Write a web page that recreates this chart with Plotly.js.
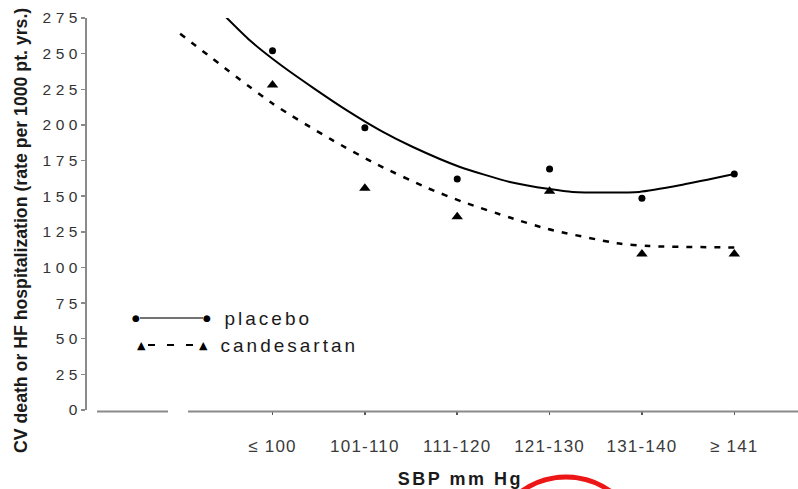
<!DOCTYPE html>
<html>
<head>
<meta charset="utf-8">
<script src="https://cdn.plot.ly/plotly-3.0.1.min.js"></script>
<style>
  html, body { margin: 0; padding: 0; background: #fff; }
  #chart { width: 798px; height: 489px; }
  .ytick text { letter-spacing: 4.5px; }
  .xtick text { letter-spacing: 1.2px; }
  .annotation[data-index="1"] text { letter-spacing: 2.5px; }
  .annotation[data-index="2"] text, .annotation[data-index="3"] text { letter-spacing: 3px; }
</style>
</head>
<body>
<div id="chart"></div>
<script>
// Categories (SBP groups) and their axis positions
const categories = ['\u2264 100', '101-110', '111-120', '121-130', '131-140', '\u2265 141'];
const catIndex = [1, 2, 3, 4, 5, 6];

// Observed event rates (per 1000 pt. yrs.)
const placebo = [252, 198, 162, 169, 148.5, 165.5];
const candesartan = [228, 155.5, 135.5, 153.5, 109.5, 109.5];

// Fitted trend curves
const placeboFitX = [0.49, 0.76, 1.09, 1.44, 1.81, 2.17, 2.52, 3.03, 3.57, 4.0, 4.25, 4.97, 5.44, 6.0];
const placeboFitY = [276, 259, 242, 226, 210, 196, 184.5, 170.5, 160, 155, 153, 153, 158, 165.5];
const candFitX = [0.0, 1.0, 1.63, 2.14, 2.68, 3.06, 3.57, 3.98, 4.73, 5.08, 6.0];
const candFitY = [264, 215, 190, 172, 155.7, 146, 135, 127, 117, 115, 114];

// y-axis ticks
const yTicks = [0, 25, 50, 75, 100, 125, 150, 175, 200, 225, 250, 275];

const traces = [
  { x: placeboFitX, y: placeboFitY, mode: 'lines', line: { color: '#000', width: 2, shape: 'spline', smoothing: 0.6 }, hoverinfo: 'skip', showlegend: false },
  { x: candFitX, y: candFitY, mode: 'lines', line: { color: '#000', width: 2.5, dash: '6px,8px', shape: 'spline', smoothing: 0.6 }, hoverinfo: 'skip', showlegend: false },
  { x: catIndex, y: placebo, mode: 'markers', name: 'placebo', marker: { symbol: 'circle', size: 7, color: '#000' }, showlegend: false },
  { x: catIndex, y: candesartan, mode: 'markers', name: 'candesartan', marker: { symbol: 'triangle-up', size: 10, color: '#000' }, showlegend: false }
];

const L = 87, T = 18, W = 710, H = 392;
const px = v => (v - L) / W;          // pixel x -> paper
const py = v => (T + H - v) / H;      // pixel y -> paper

const axisGray = '#8a8a8a';
const layout = {
  width: 798, height: 489,
  margin: { l: L, r: 798 - L - W, t: T, b: 489 - T - H },
  paper_bgcolor: '#fff', plot_bgcolor: '#fff',
  showlegend: false,
  font: { family: 'Liberation Sans, Arial, sans-serif', color: '#333' },
  xaxis: {
    range: [-1.0085, 6.679], showgrid: false, zeroline: false, showline: false,
    tickmode: 'array', tickvals: catIndex, ticktext: categories,
    ticks: 'outside', ticklen: 4, tickwidth: 1.5, tickcolor: '#555',
    ticklabelstandoff: 17,
    tickfont: { family: 'Liberation Sans, Arial, sans-serif', size: 17, color: '#3a3a3a' },
    fixedrange: true
  },
  yaxis: {
    range: [0, 275], showgrid: false, zeroline: false,
    showline: true, linecolor: axisGray, linewidth: 2,
    tickmode: 'array', tickvals: yTicks,
    ticks: 'outside', ticklen: 4, tickwidth: 1.5, tickcolor: axisGray,
    ticklabelstandoff: -4,
    tickfont: { family: 'Liberation Sans, Arial, sans-serif', size: 15.5, color: '#333' },
    fixedrange: true
  },
  shapes: [
    // broken x-axis line
    { type: 'line', xref: 'paper', yref: 'paper', x0: px(97), x1: px(168), y0: py(411.5), y1: py(411.5), line: { color: axisGray, width: 2 } },
    { type: 'line', xref: 'paper', yref: 'paper', x0: px(188), x1: px(798), y0: py(411.5), y1: py(411.5), line: { color: axisGray, width: 2 } },
    // legend: placebo
    { type: 'line', xref: 'paper', yref: 'paper', x0: px(140), x1: px(203), y0: py(318), y1: py(318), line: { color: '#444', width: 1.5 } },
    // legend: candesartan
    { type: 'line', xref: 'paper', yref: 'paper', x0: px(148), x1: px(194), y0: py(345), y1: py(345), line: { color: '#000', width: 2, dash: '7px,12px' } },
    // red hand-drawn circle at the bottom
    { type: 'circle', xref: 'paper', yref: 'paper', x0: px(490), x1: px(642), y0: py(477), y1: py(629), line: { color: 'rgb(236,22,22)', width: 5 } }
  ],
  annotations: [
    { xref: 'paper', yref: 'paper', x: px(21), y: py(231), text: 'CV death or HF hospitalization (rate per 1000 pt. yrs.)', textangle: -90, showarrow: false, xanchor: 'center', yanchor: 'middle', font: { family: 'Liberation Sans, Arial, sans-serif', size: 17.7, color: '#1a1a1a', weight: 'bold' } },
    { xref: 'paper', yref: 'paper', x: px(460), y: py(479), text: 'SBP mm Hg', showarrow: false, xanchor: 'center', yanchor: 'middle', font: { family: 'Liberation Sans, Arial, sans-serif', size: 18, color: '#1a1a1a', weight: 'bold' } },
    { xref: 'paper', yref: 'paper', x: px(268.5), y: py(318), text: 'placebo', showarrow: false, xanchor: 'center', yanchor: 'middle', font: { family: 'Liberation Sans, Arial, sans-serif', size: 19, color: '#1a1a1a' } },
    { xref: 'paper', yref: 'paper', x: px(289), y: py(345), text: 'candesartan', showarrow: false, xanchor: 'center', yanchor: 'middle', font: { family: 'Liberation Sans, Arial, sans-serif', size: 19, color: '#1a1a1a' } },
    { xref: 'paper', yref: 'paper', x: px(136), y: py(318), text: '\u25CF', showarrow: false, xanchor: 'center', yanchor: 'middle', font: { family: 'DejaVu Sans', size: 9, color: '#000' } },
    { xref: 'paper', yref: 'paper', x: px(207), y: py(318), text: '\u25CF', showarrow: false, xanchor: 'center', yanchor: 'middle', font: { family: 'DejaVu Sans', size: 9, color: '#000' } },
    { xref: 'paper', yref: 'paper', x: px(141), y: py(345), text: '\u25B2', showarrow: false, xanchor: 'center', yanchor: 'middle', font: { family: 'DejaVu Sans', size: 11, color: '#000' } },
    { xref: 'paper', yref: 'paper', x: px(203), y: py(345), text: '\u25B2', showarrow: false, xanchor: 'center', yanchor: 'middle', font: { family: 'DejaVu Sans', size: 11, color: '#000' } }
  ]
};

Plotly.newPlot('chart', traces, layout, { displayModeBar: false, staticPlot: true });
</script>
</body>
</html>
